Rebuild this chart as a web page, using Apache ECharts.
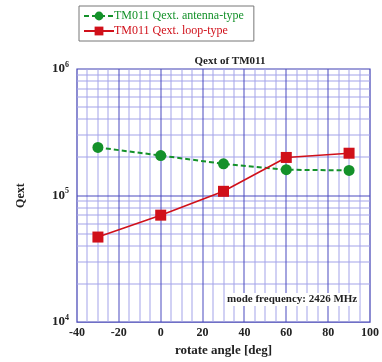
<!DOCTYPE html>
<html>
<head>
<meta charset="utf-8">
<script src="https://cdn.jsdelivr.net/npm/echarts@6/dist/echarts.min.js"></script>
<style>
  html, body { margin: 0; padding: 0; background: #fff; }
  #chart { width: 382px; height: 362px; }
</style>
</head>
<body>
<div id="chart"></div>
<script>
// Rotation angle of the coupler [deg]
const angles = [-30, 0, 30, 60, 90];
// External Q of the TM011 mode for each coupler type
const qAntenna = [240000, 207000, 178000, 160000, 158000];
const qLoop = [47000, 70000, 108000, 200000, 216000];
// Axis ticks
const xTicks = [-40, -20, 0, 20, 40, 60, 80, 100];
const yDecades = [10000, 100000, 1000000];
// Minor log grid values (2..9 within each decade)
const yMinor = [2e4, 3e4, 4e4, 5e4, 6e4, 7e4, 8e4, 9e4, 2e5, 3e5, 4e5, 5e5, 6e5, 7e5, 8e5, 9e5];
// Minor vertical grid values (every 5 deg between the 20 deg ticks)
const xMinor = [-35, -30, -25, -15, -10, -5, 5, 10, 15, 25, 30, 35, 45, 50, 55, 65, 70, 75, 85, 90, 95];

const serif = '"Liberation Serif", "DejaVu Serif", serif';
const green = '#14912a';
const red = '#d0101a';
const majorGrid = '#4a4ac0';
const minorGrid = '#a4a4ea';

const xMin = xTicks[0], xMax = xTicks[xTicks.length - 1];
const yMin = yDecades[0], yMax = yDecades[yDecades.length - 1];

// Grid line rows: [x, y, vertical?, major?]
const gridRows = []
  .concat(yMinor.map(v => [xMin, v, 0, 0]))
  .concat(xMinor.map(v => [v, yMin, 1, 0]))
  .concat(yDecades.slice(1, -1).map(v => [xMin, v, 0, 1]))
  .concat(xTicks.slice(1, -1).map(v => [v, yMin, 1, 1]));

// Draw each grid line as a 1px filled bar positioned through the axes
function renderGridLine(params, api) {
  const vertical = api.value(2) === 1;
  const major = api.value(3) === 1;
  const fill = major ? majorGrid : minorGrid;
  if (vertical) {
    const top = api.coord([api.value(0), yMax]);
    const bottom = api.coord([api.value(0), yMin]);
    return {
      type: 'rect', z2: major ? 2 : 1,
      shape: { x: Math.round(top[0]) - 0.5, y: top[1], width: 1, height: bottom[1] - top[1] },
      style: { fill: fill }
    };
  }
  const left = api.coord([xMin, api.value(1)]);
  const right = api.coord([xMax, api.value(1)]);
  return {
    type: 'rect', z2: major ? 2 : 1,
    shape: { x: left[0], y: Math.round(left[1]) - 0.5, width: right[0] - left[0], height: 1 },
    style: { fill: fill }
  };
}

const chart = echarts.init(document.getElementById('chart'), null, { renderer: 'canvas' });

chart.setOption({
  animation: false,
  backgroundColor: '#fff',
  title: {
    text: 'Qext of TM011',
    left: 225, top: 51, textAlign: 'center',
    textStyle: { fontFamily: serif, fontSize: 11, fontWeight: 'bold', color: '#222' }
  },
  legend: {
    left: 79, top: 6,
    orient: 'vertical',
    padding: [4, 10, 4, 4],
    itemGap: 3,
    itemWidth: 30, itemHeight: 11,
    borderColor: '#777', borderWidth: 1,
    backgroundColor: '#fff',
    data: [
      { name: 'TM011 Qext. antenna-type', textStyle: { color: green } },
      { name: 'TM011 Qext. loop-type', textStyle: { color: red } }
    ],
    textStyle: { fontFamily: serif, fontSize: 12, fontWeight: 'normal', padding: [0, 0, 0, -5] }
  },
  grid: {
    left: 77, right: 9, top: 69, bottom: 36,
    show: true, borderColor: '#4040b4', borderWidth: 1.2, backgroundColor: '#fff'
  },
  xAxis: {
    type: 'value', min: xMin, max: xMax, interval: 20,
    name: 'rotate angle [deg]', nameLocation: 'middle', nameGap: 20,
    nameTextStyle: { fontFamily: serif, fontSize: 13, fontWeight: 'bold', color: '#222' },
    axisLine: { show: false, onZero: false },
    axisTick: { show: false },
    axisLabel: { margin: 5, fontFamily: serif, fontSize: 12, fontWeight: 'bold', color: '#222' },
    splitLine: { show: false }
  },
  yAxis: {
    type: 'log', logBase: 10, min: yMin, max: yMax,
    name: 'Qext', nameLocation: 'middle', nameGap: 50, nameRotate: 90,
    nameTextStyle: { fontFamily: serif, fontSize: 12, fontWeight: 'bold', color: '#222' },
    axisLine: { show: false, onZero: false },
    axisTick: { show: false },
    axisLabel: {
      margin: 8,
      formatter: function (v) {
        const e = Math.round(Math.log10(v));
        return '{b|10}{s|' + e + '}';
      },
      rich: {
        b: { fontFamily: serif, fontSize: 13, fontWeight: 'bold', color: '#222' },
        s: { fontFamily: serif, fontSize: 8, fontWeight: 'bold', color: '#222', verticalAlign: 'bottom', padding: [0, 0, 9, 0] }
      }
    },
    splitLine: { show: false }
  },
  graphic: [{
    type: 'text', left: 225, top: 293, z: 10,
    style: {
      text: 'mode frequency: 2426 MHz',
      fontFamily: serif, fontSize: 11, fontWeight: 'bold', fill: '#222',
      backgroundColor: '#fff', padding: [1, 2]
    }
  }],
  series: [
    {
      type: 'custom', silent: true, z: 1,
      renderItem: renderGridLine,
      encode: { x: 0, y: 1 },
      data: gridRows
    },
    {
      name: 'TM011 Qext. antenna-type', type: 'line', z: 5,
      data: angles.map((a, i) => [a, qAntenna[i]]),
      symbol: 'circle', symbolSize: 11,
      lineStyle: { color: green, width: 2, type: [5, 3] },
      itemStyle: { color: green }
    },
    {
      name: 'TM011 Qext. loop-type', type: 'line', z: 6,
      data: angles.map((a, i) => [a, qLoop[i]]),
      symbol: 'rect', symbolSize: 11,
      lineStyle: { color: red, width: 1.6, type: 'solid' },
      itemStyle: { color: red }
    }
  ]
});
</script>
</body>
</html>
